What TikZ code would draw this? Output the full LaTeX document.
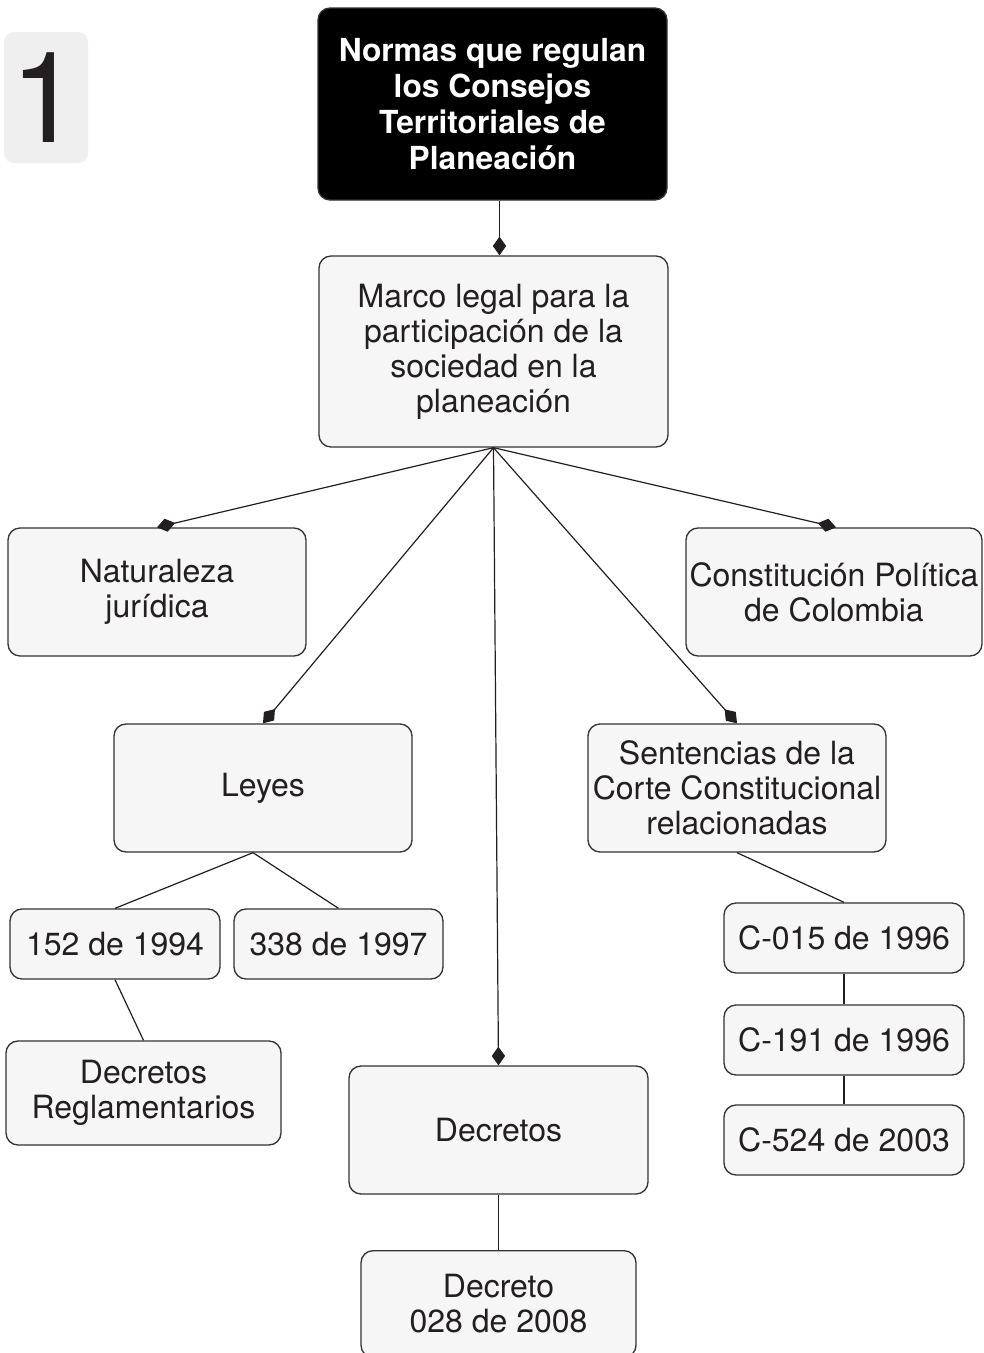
\documentclass[tikz,border=0pt]{standalone}
\usepackage{fontspec}
\setmainfont{TeX Gyre Heros}
\usetikzlibrary{arrows.meta,positioning}
\definecolor{boxfill}{HTML}{F6F6F6}
\definecolor{boxline}{HTML}{333333}
\definecolor{numfill}{HTML}{EFEFEF}
\definecolor{ink}{HTML}{231F20}
\tikzstyle{block} = [draw=boxline, fill=boxfill, rectangle, rounded corners=9pt,
    line width=1pt, align=center, text=ink]
\tikzstyle{tblock} = [draw=boxline, fill=black, rectangle, rounded corners=9pt,
    line width=1pt, align=center, text=white,
    font=\fontsize{23.8}{27}\selectfont\bfseries]
\tikzstyle{link} = [draw=ink, line width=0.9pt]
\tikzstyle{dlink} = [link, -{Diamond[length=14pt,width=10pt]}]

\begin{document}
\begin{tikzpicture}[x=0.75pt,y=-0.75pt,font=\fontsize{24}{26.3}\selectfont,
    every node/.style={inner sep=0pt}]
  \useasboundingbox (0,0) rectangle (983,1353);

  % number tab
  \node (num) [fill=numfill, rounded corners=7pt, minimum width=63pt, minimum height=98pt,
      text=ink, font=\fontsize{95}{95}\selectfont] at (46,97.5) {1};

  \node (title) [tblock, minimum width=261.75pt, minimum height=144pt] at (492.5,104)
      {Normas que regulan\\los Consejos\\Territoriales de\\Planeación};
  \node (marco) [block, minimum width=261.75pt, minimum height=143.25pt] at (493.5,351.5)
      {Marco legal para la\\participación de la\\sociedad en la\\planeación};

  \node (nat) [block, minimum width=223.5pt, minimum height=96pt] at (157,592)
      {Naturaleza\\jurídica};
  \node (const) [block, minimum width=222pt, minimum height=96pt] at (834,592)
      {Constitución Política\\de Colombia};
  \node (leyes) [block, minimum width=223.5pt, minimum height=96pt] at (263,788) {Leyes};
  \node (sent) [block, minimum width=223.5pt, minimum height=96pt] at (737,788)
      {Sentencias de la\\Corte Constitucional\\relacionadas};

  \node (l152) [block, minimum width=157.5pt, minimum height=52.5pt] at (115,944) {152 de 1994};
  \node (l338) [block, minimum width=156.75pt, minimum height=52.5pt] at (338.5,944) {338 de 1997};
  \node (decreg) [block, minimum width=206.25pt, minimum height=78pt] at (143.5,1093)
      {Decretos\\Reglamentarios};

  \node (decretos) [block, minimum width=224.25pt, minimum height=96pt] at (498.5,1130) {Decretos};
  \node (d028) [block, minimum width=206.25pt, minimum height=80pt] at (498.5,1304)
      {Decreto\\028 de 2008};

  \node (c015) [block, minimum width=180pt, minimum height=52.5pt] at (844,938) {C-015 de 1996};
  \node (c191) [block, minimum width=180pt, minimum height=52.5pt] at (844,1040) {C-191 de 1996};
  \node (c524) [block, minimum width=180pt, minimum height=52.5pt] at (844,1140) {C-524 de 2003};

  % connectors
  \draw [dlink] ([xshift=5.25pt]title.south) -- ([xshift=4.5pt]marco.north);
  \draw [dlink] (marco.south) -- (nat.north);
  \draw [dlink] (marco.south) -- (leyes.north);
  \draw [dlink] (marco.south) -- (decretos.north);
  \draw [dlink] (marco.south) -- (sent.north);
  \draw [dlink] (marco.south) -- ([xshift=1.5pt]const.north);

  \draw [link] ([xshift=-7.5pt]leyes.south) -- (l152.north);
  \draw [link] ([xshift=-7.5pt]leyes.south) -- (l338.north);
  \draw [link] (l152.south) -- (decreg.north);
  \draw [link] (sent.south) -- (c015.north);
  \draw [link] (c015.south) -- (c191.north);
  \draw [link] (c191.south) -- (c524.north);
  \draw [link] (decretos.south) -- (d028.north);
\end{tikzpicture}
\end{document}
